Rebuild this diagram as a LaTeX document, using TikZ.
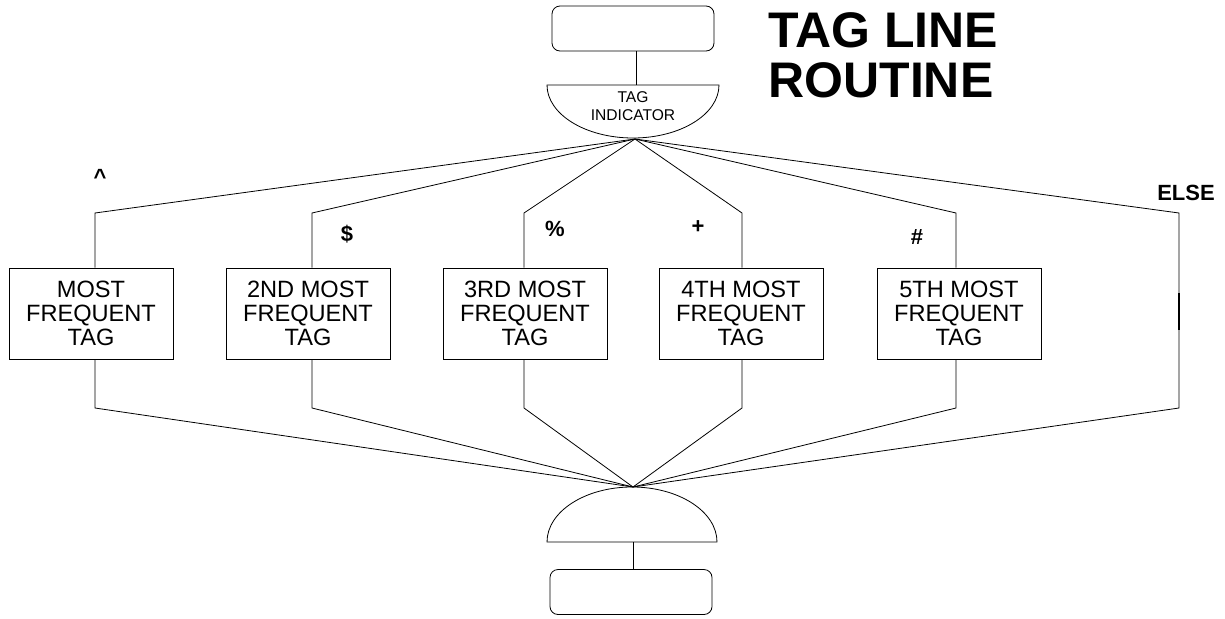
\documentclass[tikz,border=0pt]{standalone}
\usepackage{fontspec}
\setmainfont{Liberation Sans}
\begin{document}
\begin{tikzpicture}[x=0.75pt,y=0.75pt,
  line width=0.6pt,
  tagbox/.style={draw, minimum width=123pt, minimum height=68.25pt, inner sep=0pt,
    align=center, font=\fontsize{17.7}{18}\selectfont},
  termbox/.style={draw, rounded corners=6pt, minimum width=121.5pt, minimum height=33.75pt, inner sep=0pt},
  key/.style={font=\fontsize{16.5}{17}\bfseries\selectfont, inner sep=0pt}]
\useasboundingbox (0,0) rectangle (1225,-618);

% entry terminal and tag indicator decision
\node[termbox] (start) at (633,-28.5) {};
\draw (547,-85) -- (719,-85) arc[start angle=0, end angle=-180, x radius=86, y radius=53] -- cycle;
\coordinate (dtop) at (636,-85);
\coordinate (hub) at (635,-139);
\node[align=center, font=\fontsize{11.7}{13.5}\selectfont, inner sep=0pt] (ind) at (633,-106) {TAG\\INDICATOR};
\draw (start.south -| dtop) -- (dtop);

% title
\node[anchor=north west, align=left, inner sep=0pt,
  font=\fontsize{37.5}{37.5}\bfseries\selectfont] (title) at (768,-12) {TAG LINE\\ROUTINE};

% tag branches
\node[tagbox] (b1) at (91,-313.5) {MOST\\FREQUENT\\TAG};
\node[tagbox] (b2) at (308,-313.5) {2ND MOST\\FREQUENT\\TAG};
\node[tagbox] (b3) at (525,-313.5) {3RD MOST\\FREQUENT\\TAG};
\node[tagbox] (b4) at (741,-313.5) {4TH MOST\\FREQUENT\\TAG};
\node[tagbox] (b5) at (959,-313.5) {5TH MOST\\FREQUENT\\TAG};

\coordinate (t1) at (95,-213);
\coordinate (t2) at (312,-213);
\coordinate (t3) at (524,-213);
\coordinate (t4) at (742,-213);
\coordinate (t5) at (956,-213);
\coordinate (t6) at (1179,-213);

\coordinate (u1) at (95,-408);
\coordinate (u2) at (312,-408);
\coordinate (u3) at (524,-408);
\coordinate (u4) at (742,-408);
\coordinate (u5) at (956,-408);
\coordinate (u6) at (1179,-408);

% merge point and exit terminal
\coordinate (mhub) at (633,-487);
\draw (547,-542) -- (717,-542) arc[start angle=0, end angle=180, x radius=85, y radius=55] -- cycle;
\coordinate (mbase) at (633,-542);
\node[termbox] (stop) at (631,-592) {};
\draw (mbase) -- (mbase |- stop.north);

\foreach \i in {1,...,5} {
  \draw (hub) -- (t\i) -- (t\i |- b\i.north);
  \draw (t\i |- b\i.south) -- (u\i) -- (mhub);
}
% ELSE path bypasses the boxes
\draw (hub) -- (t6) -- (u6) -- (mhub);
\draw[line width=1.3pt] (1179,-293) -- (1179,-330);

% branch keys
\node[key] (k1) at (100,-177) {\^{}};
\node[key] (k2) at (347,-234) {\$};
\node[key] (k3) at (555,-229) {\%};
\node[key] (k4) at (698,-227) {+};
\node[key] (k5) at (917,-237) {\#};
\node[key] (k6) at (1186,-193) {ELSE};
\end{tikzpicture}
\end{document}
